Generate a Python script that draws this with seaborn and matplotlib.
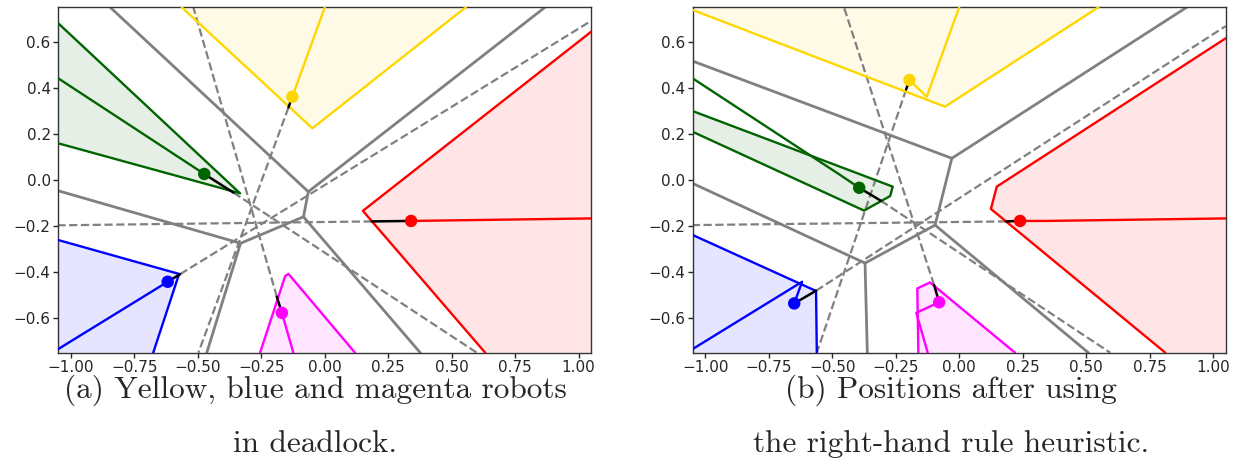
import matplotlib
matplotlib.use("Agg")
import matplotlib.pyplot as plt
import seaborn as sns

sns.set_theme(style="ticks", context="notebook")
plt.rcParams["font.family"] = ["DejaVu Sans"]
plt.rcParams["axes.edgecolor"] = "#333333"

# ---------------------------------------------------------------- axes setup
X_LIM = (-1.05, 1.05)
Y_LIM = (-0.75, 0.75)
x_ticks = [-1.0, -0.75, -0.5, -0.25, 0.0, 0.25, 0.5, 0.75, 1.0]
y_ticks = [-0.6, -0.4, -0.2, 0.0, 0.2, 0.4, 0.6]

robot_names = ["yellow", "green", "red", "blue", "magenta"]
robot_colors = {"yellow": "gold", "green": "darkgreen", "red": "red",
                "blue": "blue", "magenta": "magenta"}

captions_a = ["(a) Yellow, blue and magenta robots", "in deadlock."]
captions_b = ["(b) Positions after using", "the right-hand rule heuristic."]

# ---------------------------------------------------------------- (a) deadlock
a_robot_x = [-0.128, -0.475, 0.340, -0.619, -0.169]
a_robot_y = [0.361, 0.026, -0.178, -0.442, -0.577]
# heading segment: robot -> boundary of its own cell towards the goal
a_heading_x = [-0.143, -0.360, 0.185, -0.570, -0.189]
a_heading_y = [0.315, -0.055, -0.180, -0.409, -0.507]
# direction to goal continues past the frame
a_goal_x = [-0.498, 0.599, -1.05, 1.05, -0.518]
a_goal_y = [-0.75, -0.75, -0.197, 0.691, 0.75]

a_voronoi = [
    [(-0.846, 0.75), (-0.065, -0.051)],
    [(-0.065, -0.051), (0.868, 0.75)],
    [(-0.065, -0.051), (-0.084, -0.160)],
    [(-0.084, -0.160), (0.376, -0.75)],
    [(-0.084, -0.160), (-0.332, -0.275)],
    [(-0.332, -0.275), (-1.05, -0.047)],
    [(-0.332, -0.275), (-0.465, -0.75)],
]

a_cell_fill = {
    "yellow": [(-0.564, 0.75), (-0.049, 0.224), (0.556, 0.75)],
    "green": [(-1.05, 0.68), (-0.334, -0.058), (-1.05, 0.159)],
    "red": [(1.05, 0.644), (0.150, -0.134), (0.632, -0.75), (1.05, -0.75)],
    "blue": [(-1.05, -0.261), (-0.574, -0.408), (-0.676, -0.75), (-1.05, -0.75)],
    "magenta": [(-0.255, -0.75), (-0.156, -0.417), (-0.143, -0.408), (0.119, -0.75)],
}
a_cell_edge = {
    "yellow": [(-0.564, 0.75), (-0.049, 0.224), (0.556, 0.75)],
    "green": [(-1.05, 0.68), (-0.334, -0.058), (-1.05, 0.159)],
    "red": [(1.05, 0.644), (0.150, -0.134), (0.632, -0.75)],
    "blue": [(-1.05, -0.261), (-0.574, -0.408), (-0.676, -0.75)],
    "magenta": [(-0.255, -0.75), (-0.156, -0.417), (-0.143, -0.408), (0.119, -0.75)],
}
a_paths = {
    "yellow": [(0.0, 0.75), (-0.128, 0.361)],
    "green": [(-1.05, 0.441), (-0.475, 0.026)],
    "red": [(1.05, -0.167), (0.340, -0.178)],
    "blue": [(-1.05, -0.734), (-0.619, -0.442)],
    "magenta": [(-0.124, -0.75), (-0.169, -0.577)],
}

# ---------------------------------------------------------------- (b) right-hand rule
b_robot_x = [-0.196, -0.394, 0.240, -0.650, -0.079]
b_robot_y = [0.434, -0.034, -0.178, -0.536, -0.531]
b_heading_x = [-0.209, -0.309, 0.185, -0.564, -0.099]
b_heading_y = [0.393, -0.090, -0.180, -0.481, -0.456]
b_goal_x = [-0.561, 0.595, -1.05, 1.05, -0.454]
b_goal_y = [-0.75, -0.75, -0.196, 0.668, 0.75]

b_voronoi = [
    [(-1.05, 0.516), (-0.029, 0.094)],
    [(-0.029, 0.094), (0.897, 0.75)],
    [(-0.029, 0.094), (-0.095, -0.196)],
    [(-0.095, -0.196), (-0.371, -0.361)],
    [(-0.095, -0.196), (0.509, -0.75)],
    [(-0.371, -0.361), (-1.05, -0.015)],
    [(-0.371, -0.361), (-0.362, -0.75)],
]

b_cell_fill = {
    "yellow": [(-1.05, 0.738), (-0.056, 0.318), (0.549, 0.75), (-1.05, 0.75)],
    "green": [(-1.05, 0.299), (-0.262, -0.029), (-0.272, -0.070), (-0.375, -0.133), (-1.05, 0.209)],
    "red": [(1.05, 0.615), (0.148, -0.029), (0.125, -0.126), (0.812, -0.75), (1.05, -0.75)],
    "blue": [(-1.05, -0.239), (-0.564, -0.482), (-0.561, -0.75), (-1.05, -0.75)],
    "magenta": [(-0.161, -0.75), (-0.165, -0.471), (-0.115, -0.445), (0.220, -0.75)],
}
b_cell_edge = {
    "yellow": [(-1.05, 0.738), (-0.056, 0.318), (0.549, 0.75)],
    "green": [(-1.05, 0.299), (-0.262, -0.029), (-0.272, -0.070), (-0.375, -0.133), (-1.05, 0.209)],
    "red": [(1.05, 0.615), (0.148, -0.029), (0.125, -0.126), (0.812, -0.75)],
    "blue": [(-1.05, -0.239), (-0.564, -0.482), (-0.561, -0.75)],
    "magenta": [(-0.161, -0.75), (-0.165, -0.471), (-0.115, -0.445), (0.220, -0.75)],
}
b_paths = {
    "yellow": [(0.0, 0.75), (-0.128, 0.361), (-0.196, 0.434)],
    "green": [(-1.05, 0.441), (-0.475, 0.026), (-0.394, -0.034)],
    "red": [(1.05, -0.167), (0.340, -0.178), (0.240, -0.178)],
    "blue": [(-1.05, -0.734), (-0.619, -0.442), (-0.650, -0.536)],
    "magenta": [(-0.124, -0.75), (-0.169, -0.577), (-0.079, -0.531)],
}


def polyline(ax, pts, **kw):
    xs = [p[0] for p in pts]
    ys = [p[1] for p in pts]
    sns.lineplot(x=xs, y=ys, sort=False, estimator=None, ax=ax, **kw)


def draw_panel(ax, rx, ry, hx, hy, gx, gy, voronoi, cell_fill, cell_edge, paths):
    # cells
    for name in robot_names:
        pts = cell_fill[name]
        ax.fill([p[0] for p in pts], [p[1] for p in pts],
                color=robot_colors[name], alpha=0.1, lw=0, zorder=1)
    # Voronoi edges
    for seg in voronoi:
        polyline(ax, seg, color="gray", lw=2.0, zorder=2)
    # goal directions
    for i in range(len(robot_names)):
        polyline(ax, [(hx[i], hy[i]), (gx[i], gy[i])], color="gray",
                 lw=1.6, linestyle="--", zorder=2)
    # cell outlines and travelled paths
    for name in robot_names:
        polyline(ax, cell_edge[name], color=robot_colors[name], lw=1.7, zorder=3)
        polyline(ax, paths[name], color=robot_colors[name], lw=1.7, zorder=3)
    # heading segments
    for i in range(len(robot_names)):
        polyline(ax, [(rx[i], ry[i]), (hx[i], hy[i])], color="black", lw=1.8, zorder=4)
    # robots
    sns.scatterplot(x=rx, y=ry, hue=robot_names, palette=robot_colors, s=80,
                    linewidth=0, legend=False, ax=ax, zorder=5)

    ax.set_xlim(*X_LIM)
    ax.set_ylim(*Y_LIM)
    ax.set_xticks(x_ticks)
    ax.set_yticks(y_ticks)
    ax.set_xlabel("")
    ax.set_ylabel("")
    ax.tick_params(labelsize=11, length=3.5, width=1.0, pad=2.0)
    for sp in ax.spines.values():
        sp.set_linewidth(1.0)


fig = plt.figure(figsize=(12.45, 4.68), dpi=100)
W, H = 1245.0, 468.0
ax_a = fig.add_axes([58.3 / W, 1 - 352.7 / H, 533.0 / W, 345.5 / H])
ax_b = fig.add_axes([692.7 / W, 1 - 352.7 / H, 533.0 / W, 345.5 / H])

draw_panel(ax_a, a_robot_x, a_robot_y, a_heading_x, a_heading_y, a_goal_x, a_goal_y,
           a_voronoi, a_cell_fill, a_cell_edge, a_paths)
draw_panel(ax_b, b_robot_x, b_robot_y, b_heading_x, b_heading_y, b_goal_x, b_goal_y,
           b_voronoi, b_cell_fill, b_cell_edge, b_paths)

for cx, lines in ((315.0, captions_a), (951.0, captions_b)):
    for k, line in enumerate(lines):
        fig.text(cx / W, 1 - (398.0 + 54.0 * k) / H, line, ha="center", va="baseline",
                 fontsize=22.5, family="cmr10")

fig.savefig("out.png", dpi=100)
